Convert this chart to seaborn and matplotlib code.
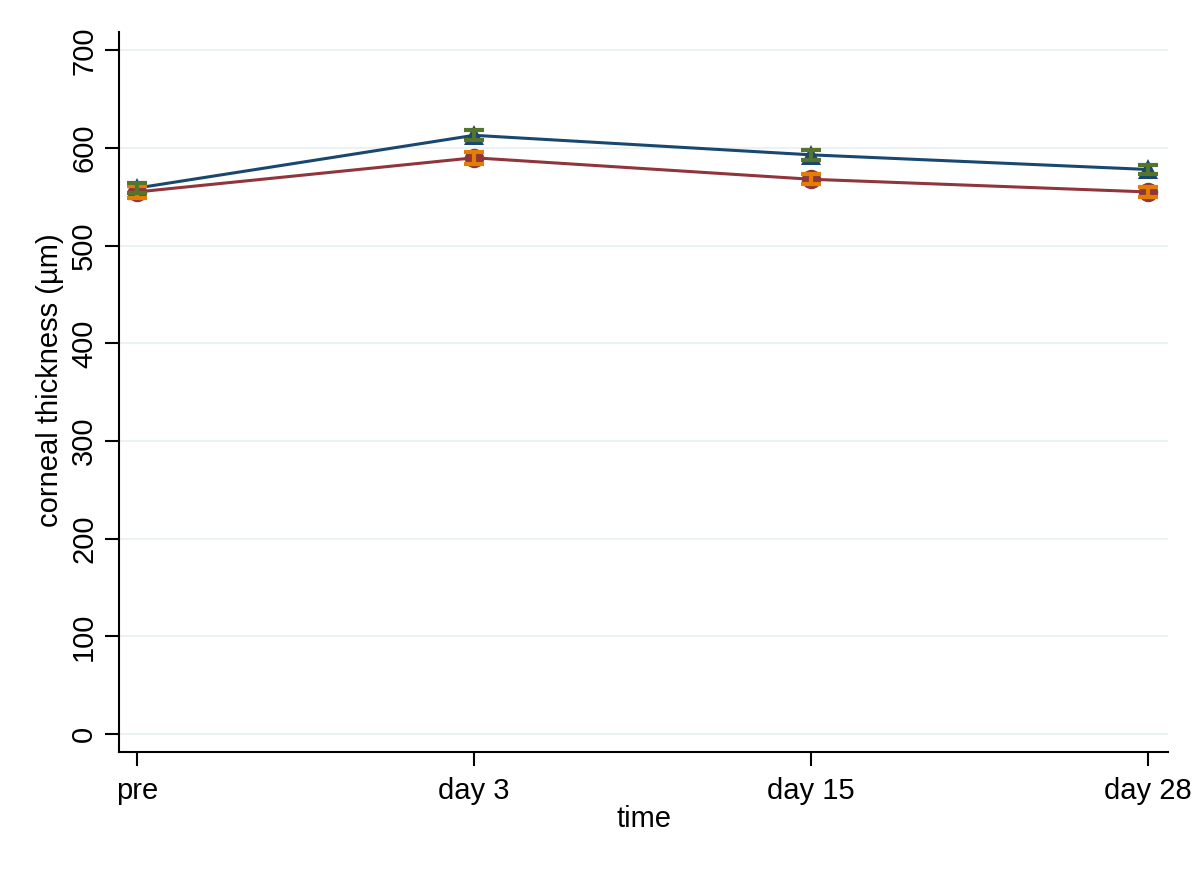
import numpy as np
import pandas as pd
import matplotlib
matplotlib.use("Agg")
import matplotlib.pyplot as plt
import seaborn as sns

# Data
time_labels = ["pre", "day 3", "day 15", "day 28"]
group_a_mean = [559, 613, 593, 578]
group_a_err = [5, 5, 5, 5]
group_b_mean = [555, 590, 568, 555]
group_b_err = [6, 6, 5, 5]
y_ticks = [0, 100, 200, 300, 400, 500, 600, 700]

sns.set_style("white")
plt.rcParams['font.family'] = ['Liberation Sans', 'DejaVu Sans']
plt.rcParams['text.color'] = 'black'
plt.rcParams['axes.labelcolor'] = 'black'
plt.rcParams['xtick.color'] = 'black'
plt.rcParams['ytick.color'] = 'black'

df = pd.DataFrame({
    "time": list(range(4)) * 2,
    "value": group_a_mean + group_b_mean,
    "group": ["A"] * 4 + ["B"] * 4,
})

fig = plt.figure(figsize=(12, 8.72), dpi=100)
ax = fig.add_axes([0.0992, 0.1376, 0.8742, 0.8254])

navy = "#1a476f"
maroon = "#90353b"
green = "#55752f"
orange = "#e37e00"

x = np.arange(4)

sns.lineplot(data=df, x="time", y="value", hue="group", style="group",
             palette={"A": navy, "B": maroon}, markers={"A": "^", "B": "o"},
             dashes=False, markersize=14, markeredgewidth=0, linewidth=2.2,
             legend=False, ax=ax, zorder=4)

ax.errorbar(x, group_b_mean, yerr=group_b_err, fmt="none", ecolor=orange,
            elinewidth=3, capsize=7, capthick=3, zorder=5)
ax.errorbar(x, group_a_mean, yerr=group_a_err, fmt="none", ecolor=green,
            elinewidth=3, capsize=7, capthick=3, zorder=5)

ax.set_xlim(-0.053, 3.059)
ax.set_ylim(-18.4, 718.5)
ax.set_xticks(x)
ax.set_xticklabels(time_labels, fontsize=21)
ax.set_yticks(y_ticks)
ax.set_yticklabels([str(v) for v in y_ticks], fontsize=21, rotation=90, va="center")
ax.set_xlabel("time", fontsize=21, labelpad=0)
ax.set_ylabel("corneal thickness (µm)", fontsize=21)
ax.yaxis.set_label_coords(-0.052, 0.517)

ax.grid(axis="y", color="#eaf2f3", linewidth=1.5)
ax.set_axisbelow(True)
for s in ["top", "right"]:
    ax.spines[s].set_visible(False)
for s in ["left", "bottom"]:
    ax.spines[s].set_color("black")
    ax.spines[s].set_linewidth(1.5)
ax.tick_params(axis="both", direction="out", length=10, width=1.5, color="black",
               left=True, bottom=True, pad=8)
ax.tick_params(axis="y", pad=5)

fig.savefig("out.png", dpi=100, facecolor="white")
